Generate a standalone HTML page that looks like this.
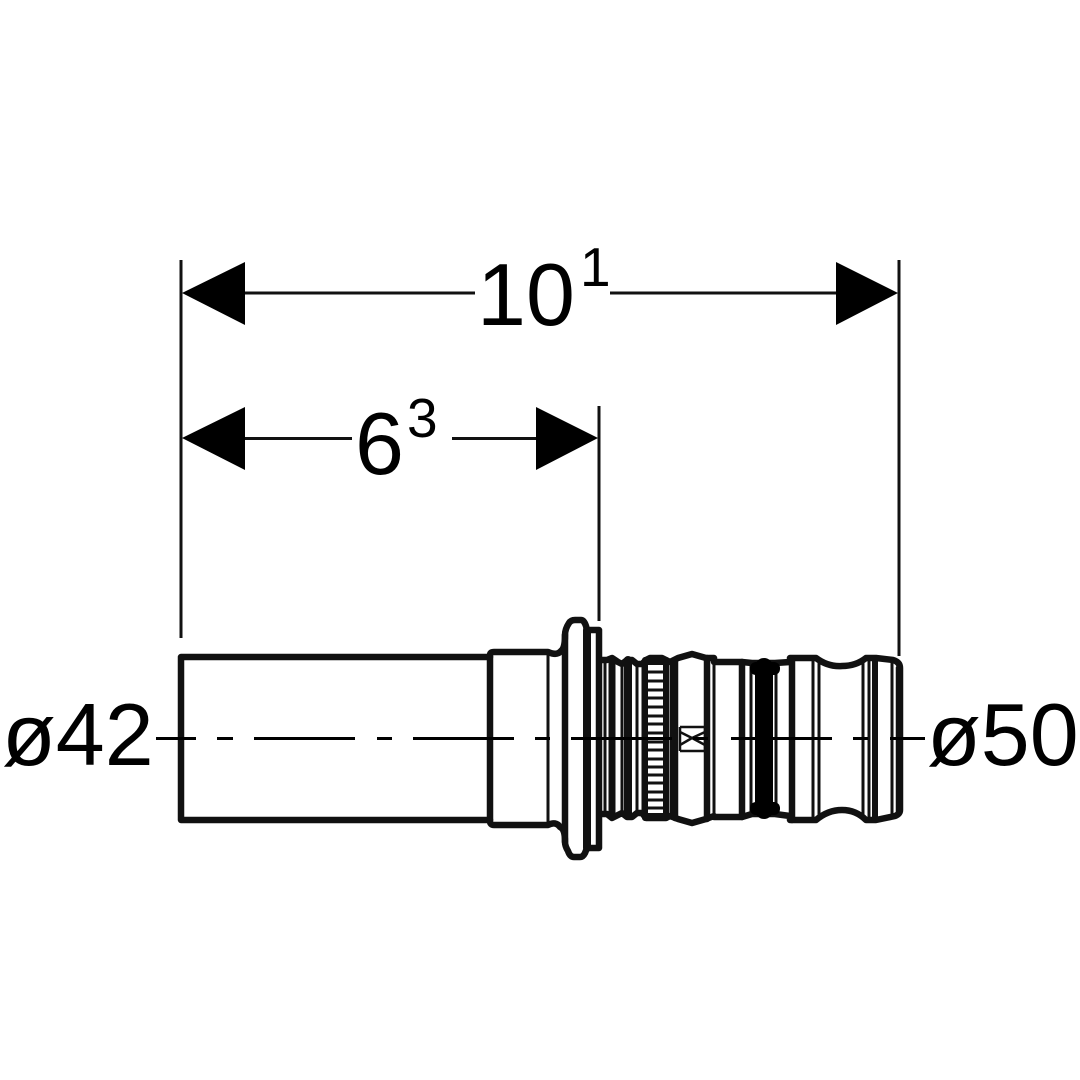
<!DOCTYPE html>
<html><head><meta charset="utf-8"><style>
html,body{margin:0;padding:0;background:#fff}
svg{display:block}
text{font-family:"Liberation Sans",sans-serif;fill:#000}
</style></head><body>
<svg width="1080" height="1080" viewBox="0 0 1080 1080" xmlns="http://www.w3.org/2000/svg">
<rect width="1080" height="1080" fill="#fff"/>
<g fill="none" stroke="#111" stroke-linejoin="round" stroke-linecap="round">
<!-- dimension extension lines -->
<g stroke-width="3" stroke-linecap="butt">
<path d="M181 260V638M899 260V656M599 406V621"/>
<path d="M245 293H475M610 293H836M245 438.5H352M452 438.5H536"/>
</g>
<!-- body thick -->
<g stroke-width="6.5">
<rect x="181" y="657" width="309" height="163"/>
<path d="M490 657V655Q490 652 494 652H548Q557 656 561 651Q565 648 565 635Q565 629 569 623Q571 620 575 620H581Q584 620 586 626L587 630H599V848H587L585 853Q583 857 580 857H574Q570 857 568 851Q565 846 565 842Q565 829 560 827Q556 821 548 825H494Q490 825 490 821V820"/>
<path d="M565 635V842"/>
<path d="M587 630V848" stroke-width="8"/>
<path d="M602 660H607L612 658L618 662L622 664L627 660L632 660L637 664H642L646 660L650 658H662L666 660L670 662L678 658L692 654L706 658H714V662H742L752 663H773L775 663L790 662V658H816Q828 667 842 666Q856 666 866 658H876L893 660Q900 662 900 668V810Q900 814 895 816L876 820H866Q856 810 842 810Q828 810 816 820H790V816L775 814H752L742 817H714V816L706 819L692 823L678 819L670 816L666 818H650L646 818L642 813H637L632 817H627L622 813L618 815L612 818L607 814H602"/>
<path d="M675 660V818M707 658V819M742 662V817M792 660V820M899 668V812"/>
<path d="M612 660V816" stroke-width="7"/>
<path d="M628 660V816" stroke-width="8"/>
<path d="M645 660V818M666 660V818" stroke-width="6"/>
<path d="M646 661H666M646 817H666" stroke-width="8"/>
</g>
<!-- thin verticals -->
<g stroke-width="3" stroke-linecap="butt">
<path d="M548 652V825M605 660V816M622 662V814M637 664V813M643 664V813M671 660V818M714 662V816M751 663V814M776 664V814M813 660V820M819 662V820M863 660V816M869 658V820M892 660V816"/>
<path d="M875 658V820" stroke-width="6"/>
<path d="M680 727H705M680 751H705M680 727V751M705 727V751M680 732L692 738L680 745M705 732L692 738L705 745" stroke-width="2.5"/>
</g>
<!-- knurl -->
<g stroke-width="3" stroke-linecap="butt">
<path d="M646 672H666M646 681H666M646 690H666M646 698H666M646 707H666M646 716H666M646 724H666M646 733H666M646 742H666M646 750H666M646 759H666M646 767H666M646 775H666M646 783H666M646 792H666M646 800H666M646 808H666"/>
</g>
<!-- center line -->
<path d="M156 738.5H196M217 738.5H233M254 738.5H355M377 738.5H392M413 738.5H514M535 738.5H550M571 738.5H672M693 738.5H708M731 738.5H832M853 738.5H868M890 738.5H925" stroke-width="3" stroke-linecap="butt" stroke="#000"/>
</g>
<!-- black band -->
<rect x="755" y="658" width="18" height="161" rx="9" fill="#000"/>
<rect x="750" y="662" width="30" height="13" rx="6" fill="#000"/>
<rect x="750" y="802" width="30" height="13" rx="6" fill="#000"/>
<!-- arrowheads -->
<g fill="#000">
<polygon points="182,293 245,262 245,325"/>
<polygon points="898,293 836,262 836,325"/>
<polygon points="182,438 245,407 245,470"/>
<polygon points="598,438 536,407 536,470"/>
</g>
<!-- labels -->
<text x="477" y="325" font-size="88">10</text>
<text x="580" y="286" font-size="55">1</text>
<text x="355" y="474" font-size="88">6</text>
<text x="407" y="437" font-size="55">3</text>
<text x="2" y="765" font-size="88">ø42</text>
<text x="927" y="765" font-size="88">ø50</text>
</svg>
</body></html>
